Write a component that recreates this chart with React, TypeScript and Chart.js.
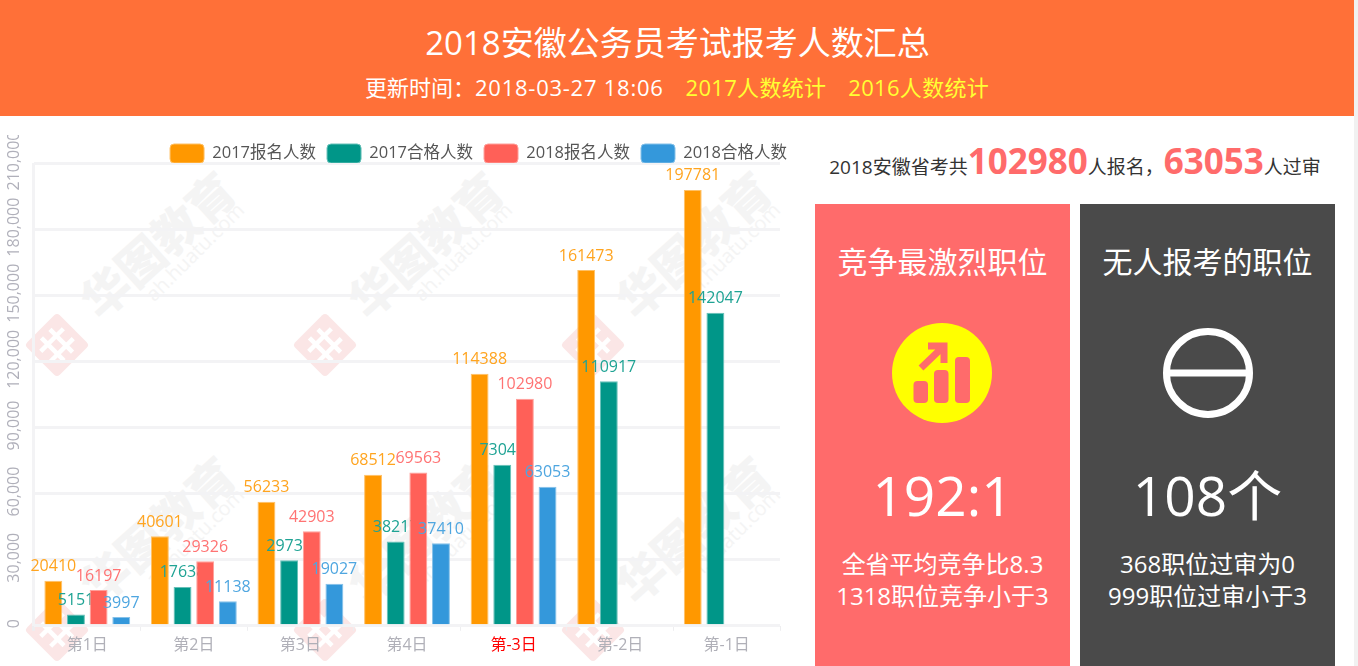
import React, { useEffect, useRef } from "react";
import { Chart, registerables } from "chart.js";

Chart.register(...registerables);

const categories = ["第1日", "第2日", "第3日", "第4日", "第-3日", "第-2日", "第-1日"];
const seriesNames = ["2017报名人数", "2017合格人数", "2018报名人数", "2018合格人数"];
const signups2017 = [20410, 40601, 56233, 68512, 114388, 161473, 197781];
const passed2017 = [5151, 17638, 29731, 38217, 73041, 110917, 142047];
const signups2018 = [16197, 29326, 42903, 69563, 102980, null, null];
const passed2018 = [3997, 11138, 19027, 37410, 63053, null, null];
const seriesValues = [signups2017, passed2017, signups2018, passed2018];
const seriesColors = ["#ff9800", "#009688", "#ff6058", "#3498db"];
const labelColors = ["#ffa41f", "#1fa394", "#ff7373", "#4ea6e0"];
const barEdges = ["#ffc166", "#66c0b8", "#ff9f9a", "#85c1e9"];
const yMax = 210000;
const yStep = 30000;

const FONT = '"Open Sans","Noto Sans CJK SC",sans-serif';

// Bars and their value labels are painted series by series, so that a later
// series' bars cover the end of an earlier series' labels.
const seriesPainter = {
  id: "seriesPainter",
  beforeDatasetsDraw(chart: any) {
    const ctx = chart.ctx;
    seriesNames.forEach((_, i) => {
      const meta = chart.getDatasetMeta(i);
      meta.controller.draw();
      ctx.save();
      ctx.font = `16px ${FONT}`;
      ctx.textAlign = "center";
      ctx.textBaseline = "bottom";
      ctx.fillStyle = labelColors[i];
      meta.data.forEach((bar: any, j: number) => {
        const v = seriesValues[i][j];
        if (v == null) return;
        ctx.fillText(String(v), bar.x, bar.y - 6);
      });
      ctx.restore();
    });
    return false;
  },
};

const legendPlacer = {
  id: "legendPlacer",
  beforeUpdate(chart: any) {
    const legend = chart.legend;
    if (!legend || legend.__placed) return;
    legend.__placed = true;
    const fit = legend.fit;
    legend.fit = function () {
      fit.call(this);
      this.height = 30;
    };
    const draw = legend.draw;
    legend.draw = function () {
      this.ctx.save();
      this.ctx.translate(18, 0);
      draw.call(this);
      this.ctx.restore();
    };
  },
};

const rotatedTicks = {
  id: "rotatedTicks",
  afterDraw(chart: any) {
    const ctx = chart.ctx;
    const y = chart.scales.y;
    ctx.save();
    ctx.font = `16px ${FONT}`;
    ctx.fillStyle = "#b0b0ba";
    ctx.textAlign = "center";
    ctx.textBaseline = "middle";
    y.ticks.forEach((t: any) => {
      ctx.save();
      ctx.translate(14, y.getPixelForValue(t.value) - 2);
      ctx.rotate(-Math.PI / 2);
      ctx.fillText(t.value.toLocaleString("en-US"), 0, 0);
      ctx.restore();
    });
    ctx.restore();
  },
};

function BarChart() {
  const ref = useRef<HTMLCanvasElement>(null);
  useEffect(() => {
    const chart = new Chart(ref.current!, {
      type: "bar",
      data: {
        labels: categories,
        datasets: seriesNames.map((name, i) => ({
          label: name,
          data: seriesValues[i],
          backgroundColor: seriesColors[i],
          borderColor: barEdges[i],
          borderWidth: 1,
          categoryPercentage: 0.85,
          barPercentage: 0.79,
        })),
      } as any,
      options: {
        responsive: false,
        animation: false,
        devicePixelRatio: 1,
        layout: { padding: { top: -2, right: 20, bottom: 6, left: 0 } },
        plugins: {
          tooltip: { enabled: false },
          legend: {
            position: "top",
            align: "end",
            labels: {
              boxWidth: 34,
              boxHeight: 19,
              padding: 11,
              color: "#555",
              font: { size: 16.5, family: FONT },
              generateLabels(chart: any) {
                return Chart.defaults.plugins.legend.labels.generateLabels(chart).map((l: any) => ({
                  ...l,
                  borderRadius: 4,
                  lineWidth: 1,
                }));
              },
            },
          },
        },
        scales: {
          x: {
            border: { display: false },
            grid: {
              color: (c: any) => (c.index === 0 || c.index === categories.length ? "#f3f3f5" : "rgba(0,0,0,0)"),
              tickColor: "#eeeef0",
              lineWidth: (c: any) => (c.index === 0 || c.index === categories.length ? 3 : 1),
              tickLength: 5,
              offset: true,
            },
            ticks: {
              color: (c: any) => (c.index === 4 ? "#f00" : "#b0b0b8"),
              font: { size: 16, family: FONT },
              padding: 5,
              maxRotation: 0,
            },
          },
          y: {
            min: 0,
            max: yMax,
            border: { display: false },
            grid: { color: "#f3f3f5", lineWidth: 3, tickLength: 0 },
            ticks: { stepSize: yStep, display: false },
            afterFit: (s: any) => {
              s.width = 34;
            },
          },
        },
      },
      plugins: [legendPlacer, seriesPainter, rotatedTicks],
    } as any);
    return () => chart.destroy();
  }, []);
  return <canvas ref={ref} width={800} height={531} style={{ position: "absolute", left: 0, top: 135 }} />;
}

const markTiles = [
  [0, 0], [268, 0], [536, 0],
  [0, 285], [268, 285], [536, 285],
];

function Watermarks() {
  return (
    <>
      {markTiles.map(([dx, dy], i) => (
        <div key={i} style={{ position: "absolute", left: dx, top: dy }}>
          <div style={{ position: "absolute", left: 43, top: 212, width: 230, textAlign: "center", transform: "rotate(-42deg)", font: `900 47px ${FONT}`, color: "#f4f4f4", whiteSpace: "nowrap", lineHeight: "66px" }}>华图教育</div>
          <div style={{ position: "absolute", left: 115, top: 240, width: 160, textAlign: "center", transform: "rotate(-45deg)", font: `20px ${FONT}`, color: "#f4f4f4", whiteSpace: "nowrap", lineHeight: "24px" }}>ah.huatu.com</div>
          <svg width="80" height="80" style={{ position: "absolute", left: 17, top: 305 }}>
            <g transform="rotate(45 40 40)">
              <rect x="17" y="17" width="46" height="46" rx="4" fill="#fbe6e6" />
              <path d="M24 34H56M24 46H56M33 24V56M47 24V56" stroke="#fff" strokeWidth="4.5" />
            </g>
          </svg>
        </div>
      ))}
    </>
  );
}

const abs = (extra: React.CSSProperties): React.CSSProperties => ({
  position: "absolute",
  textAlign: "center",
  whiteSpace: "nowrap",
  color: "#fff",
  ...extra,
});

export default function App() {
  return (
    <div style={{ position: "relative", width: 1358, height: 666, overflow: "hidden", background: "#fff", fontFamily: FONT }}>
      <style>{"html,body{margin:0;padding:0;overflow:hidden}"}</style>
      <Watermarks />
      <BarChart />
      <div style={{ position: "absolute", left: 0, top: 0, width: 1354, height: 116, background: "#ff7038" }} />
      <div style={abs({ left: 0, width: 1355, top: 21, fontSize: 33, lineHeight: "44px" })}>2018安徽公务员考试报考人数汇总</div>
      <div style={abs({ left: 0, width: 1354, top: 72, fontSize: 22, lineHeight: "30px" })}>
        更新时间：<span style={{ letterSpacing: 0.75 }}>2018-03-27 18:06</span>
        <span style={{ color: "#ffff33", marginLeft: 22, letterSpacing: 0.3 }}>2017人数统计</span>
        <span style={{ color: "#ffff33", marginLeft: 22, letterSpacing: 0.3 }}>2016人数统计</span>
      </div>
      <div style={{ position: "absolute", left: 1354, top: 0, width: 4, height: 666, background: "#f1f1f1" }} />
      <div style={abs({ left: 815, width: 520, top: 136, lineHeight: "50px", fontSize: 19, color: "#333" })}>
        2018安徽省考共<b style={{ fontSize: 35, color: "#ff6b6b" }}>102980</b>人报名，<b style={{ fontSize: 35, color: "#ff6b6b" }}>63053</b>人过审
      </div>

      <div style={{ position: "absolute", left: 815, top: 204, width: 255, height: 462, background: "#ff6b6b" }} />
      <div style={{ position: "absolute", left: 1080, top: 204, width: 255, height: 462, background: "#4a4a4a" }} />

      <div style={abs({ left: 815, width: 255, top: 240, fontSize: 30, lineHeight: "44px" })}>竞争最激烈职位</div>
      <div style={abs({ left: 1080, width: 255, top: 240, fontSize: 30, lineHeight: "44px" })}>无人报考的职位</div>

      <svg width="100" height="100" style={{ position: "absolute", left: 892, top: 323 }}>
        <circle cx="50" cy="50" r="50" fill="#ffff00" />
        <rect x="21.5" y="58" width="14.5" height="22" rx="4" fill="#ff6b6b" />
        <rect x="42" y="47" width="14.5" height="33" rx="4" fill="#ff6b6b" />
        <rect x="63" y="34" width="15" height="46" rx="4" fill="#ff6b6b" />
        <path d="M29 45L53 22M36 23H52V40" fill="none" stroke="#ff6b6b" strokeWidth="7" />
      </svg>
      <svg width="100" height="100" style={{ position: "absolute", left: 1158, top: 323 }}>
        <circle cx="50" cy="50" r="41.5" fill="none" stroke="#fff" strokeWidth="7" />
        <path d="M8 50H92" stroke="#fff" strokeWidth="7" />
      </svg>

      <div style={abs({ left: 815, width: 255, top: 456, fontSize: 55, lineHeight: "78px" })}>192:1</div>
      <div style={abs({ left: 1080, width: 255, top: 456, fontSize: 55, lineHeight: "78px" })}>108个</div>
      <div style={abs({ left: 815, width: 255, top: 548, fontSize: 24, lineHeight: "32px" })}>
        全省平均竞争比8.3<br />1318职位竞争小于3
      </div>
      <div style={abs({ left: 1080, width: 255, top: 548, fontSize: 24, lineHeight: "32px" })}>
        368职位过审为0<br />999职位过审小于3
      </div>
    </div>
  );
}
